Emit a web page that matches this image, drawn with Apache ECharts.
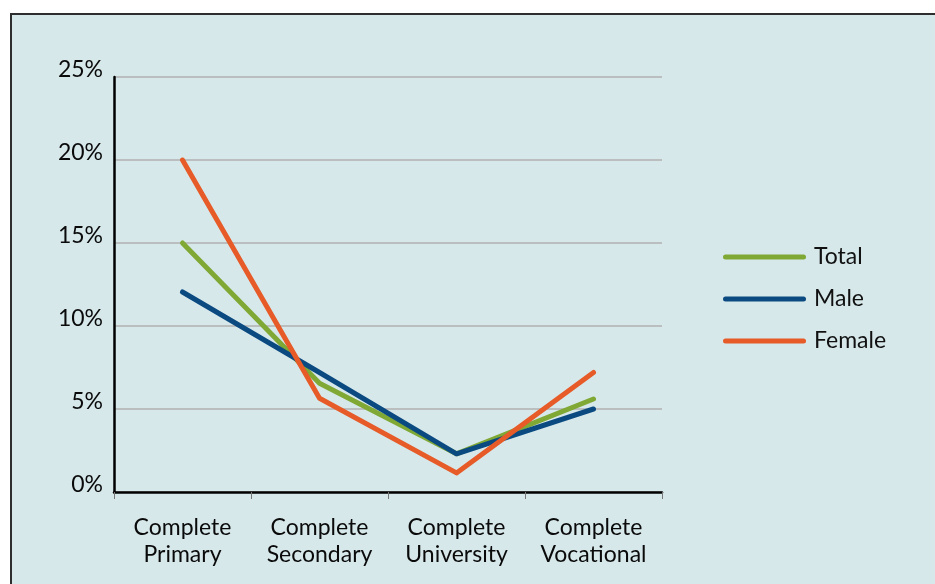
<!DOCTYPE html>
<html>
<head>
<meta charset="utf-8">
<title>Education completion by sex</title>
<script src="https://cdn.jsdelivr.net/npm/echarts@6/dist/echarts.min.js"></script>
<style>
  html, body { margin: 0; padding: 0; background: #ffffff; }
  #chart { width: 935px; height: 584px; }
</style>
</head>
<body>
<div id="chart"></div>
<script>
// Share of people who completed each level of education (%)
const categories = ['Complete\nPrimary', 'Complete\nSecondary', 'Complete\nUniversity', 'Complete\nVocational'];
const totalValues = [15, 6.55, 2.3, 5.6];
const maleValues = [12.05, 7.2, 2.3, 5.0];
const femaleValues = [20, 5.65, 1.15, 7.2];
const seriesNames = ['Total', 'Male', 'Female'];
const seriesColors = ['#7fa835', '#0b4a80', '#e65b27'];

const FONT = 'Lato, "Noto Sans", sans-serif';
// pill-shaped legend swatch (a thick line with round ends)
const PILL = 'path://M2.5,0 L80.5,0 A2.5,2.5 0 0 1 80.5,5 L2.5,5 A2.5,2.5 0 0 1 2.5,0 Z';

const chart = echarts.init(document.getElementById('chart'), null, { renderer: 'canvas' });

function lineSeries(name, values, color) {
  return {
    name: name,
    type: 'line',
    data: values,
    symbol: 'none',
    smooth: false,
    lineStyle: { color: color, width: 5, cap: 'round', join: 'round' },
    itemStyle: { color: color },
    emphasis: { disabled: true }
  };
}

chart.setOption({
  backgroundColor: '#ffffff',
  animation: false,
  graphic: [{
    type: 'rect',
    z: -10,
    silent: true,
    shape: { x: 11, y: 14, width: 940, height: 590 },
    style: { fill: '#d7e8eb', stroke: '#2e2e2e', lineWidth: 2 }
  }],
  grid: { left: 114, top: 77, width: 548, height: 415, containLabel: false },
  legend: {
    orient: 'vertical',
    left: 723,
    top: 245,
    padding: 0,
    itemWidth: 83,
    itemHeight: 5,
    itemGap: 18,
    icon: PILL,
    data: seriesNames,
    textStyle: { fontFamily: FONT, fontSize: 23, lineHeight: 24, color: '#111111', padding: [0, 0, 0, 3] },
    selectedMode: false
  },
  xAxis: {
    type: 'category',
    data: categories,
    boundaryGap: true,
    axisLine: { show: true, lineStyle: { color: '#000000', width: 2.5 } },
    axisTick: { show: true, interval: 0, length: 7, lineStyle: { color: '#777777', width: 1 } },
    axisLabel: {
      interval: 0,
      margin: 22,
      fontFamily: FONT,
      fontSize: 23,
      lineHeight: 27,
      color: '#0a0a0a'
    },
    splitLine: { show: false }
  },
  yAxis: {
    type: 'value',
    min: 0,
    max: 25,
    interval: 5,
    axisLine: { show: true, lineStyle: { color: '#000000', width: 2.5 } },
    axisTick: { show: false },
    axisLabel: {
      margin: 11,
      fontFamily: FONT,
      fontSize: 23,
      color: '#0a0a0a',
      verticalAlign: 'bottom',
      lineHeight: 14,
      formatter: v => v + '%'
    },
    splitLine: { show: true, lineStyle: { color: '#b0b0b0', width: 1.5 } }
  },
  series: [
    lineSeries(seriesNames[0], totalValues, seriesColors[0]),
    lineSeries(seriesNames[1], maleValues, seriesColors[1]),
    lineSeries(seriesNames[2], femaleValues, seriesColors[2])
  ]
});
</script>
</body>
</html>
